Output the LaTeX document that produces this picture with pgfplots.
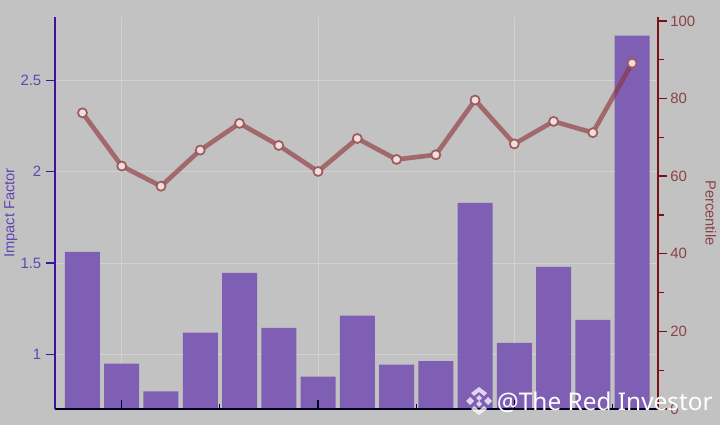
\documentclass[border=0pt]{standalone}
\usepackage{fontspec}
\setmainfont{Liberation Sans}
\newfontfamily\wmfont{Noto Sans}
\usepackage{pgfplots}
\pgfplotsset{compat=1.18}

\definecolor{bgc}{HTML}{C2C2C2}
\definecolor{gridc}{HTML}{D2D2D2}
\definecolor{barc}{HTML}{7A58B4}
\definecolor{leftc}{HTML}{3A14A0}
\definecolor{lefttxt}{HTML}{6046B0}
\definecolor{rightc}{HTML}{7A1016}
\definecolor{righttxt}{HTML}{8C4248}
\definecolor{linec}{HTML}{8E2F33}
\definecolor{markc}{HTML}{EFDEDE}

\pgfplotsset{
  panel/.style={
    scale only axis, width=452.25pt, height=294pt,
    at={(41.25pt,12pt)}, anchor=south west,
    xmin=-0.70, xmax=14.66,
    /pgf/number format/assume math mode=true,
    tick label style={font=\fontsize{11.2}{13}\selectfont},
    label style={font=\fontsize{11}{13}\selectfont},
  },
}

\begin{document}
\begin{tikzpicture}
\path[use as bounding box, fill=bgc] (0,0) rectangle (540pt,318.75pt);

% bars, left scale and grid
\begin{axis}[
  panel,
  ymin=0.70, ymax=2.848,
  axis x line*=bottom, axis y line*=left,
  x axis line style={draw=none},
  y axis line style={draw=leftc, line width=1.3pt, -},
  xtick={1,6,11}, xticklabels={},
  major x tick style={draw=none},
  ytick={1,1.5,2,2.5},
  yticklabels={1,1.5,2,2.5},
  tick align=outside,
  major tick length=6.75pt,
  major y tick style={draw=leftc, line width=1.1pt},
  y tick label style={text=lefttxt},
  ylabel={Impact Factor},
  ylabel style={text=lefttxt, at={(axis description cs:-0.0733,0.5)}, anchor=center},
  grid=major,
  major grid style={draw=gridc, line width=0.75pt},
]
\addplot[ybar, bar width=26.25pt, bar shift=0pt, fill=barc, fill opacity=0.93, draw=none] coordinates {
  (0,1.561)(1,0.948)(2,0.797)(3,1.118)(4,1.446)(5,1.145)(6,0.877)(7,1.211)
  (8,0.943)(9,0.962)(10,1.829)(11,1.063)(12,1.479)(13,1.189)(14,2.746)
};
\end{axis}

% bottom line and inward ticks
\begin{axis}[
  panel,
  ymin=0, ymax=1,
  axis x line*=bottom, axis y line*=left,
  y axis line style={draw=none},
  x axis line style={draw=black!85!blue, line width=1.1pt, -},
  ytick=\empty,
  xtick={1,6,11}, xticklabels={},
  minor xtick={3.5,8.5,13.5},
  tick align=inside,
  major tick length=6.5pt, minor tick length=4pt,
  major x tick style={draw=black!85!blue, line width=0.9pt},
  minor x tick style={draw=black!85!blue, line width=0.9pt},
]
\end{axis}

% percentile line, right scale
\begin{axis}[
  panel,
  ymin=0, ymax=101,
  hide x axis,
  axis y line*=right,
  y axis line style={draw=rightc, line width=1.1pt, -},
  ytick={0,20,40,60,80,100},
  minor ytick={10,30,50,70,90},
  tick align=outside,
  major tick length=6.75pt, minor tick length=4.5pt,
  major y tick style={draw=rightc, line width=1pt},
  minor y tick style={draw=rightc, line width=1pt},
  y tick label style={text=righttxt, xshift=-1pt},
  ylabel={Percentile},
  ylabel style={text=righttxt, at={(axis description cs:1.0875,0.5)}, anchor=center, rotate=180},
  clip=false,
]
\addplot[draw=linec, draw opacity=0.6, line width=3.5pt, mark=none] coordinates {
  (0,76.3)(1,62.6)(2,57.4)(3,66.7)(4,73.6)(5,67.9)(6,61.2)(7,69.7)
  (8,64.3)(9,65.5)(10,79.6)(11,68.3)(12,74.1)(13,71.2)(14,89.1)
};
\addplot[draw=none, mark=*, mark size=3.4pt,
  mark options={fill=markc, draw=linec!70!bgc, line width=1.3pt}] coordinates {
  (0,76.3)(1,62.6)(2,57.4)(3,66.7)(4,73.6)(5,67.9)(6,61.2)(7,69.7)
  (8,64.3)(9,65.5)(10,79.6)(11,68.3)(12,74.1)(13,71.2)(14,89.1)
};
\end{axis}

% watermark
\begin{scope}[x=0.75pt, y=0.75pt, shift={(479,24)}, fill=white, fill opacity=0.75]
  \fill (-3,3) -- (0,6) -- (3,3) -- (0,0) -- cycle;
  \fill (-3,-3) -- (0,-6) -- (3,-3) -- (0,0) -- cycle;
  \fill (-13,0) -- (-9,4) -- (-5,0) -- (-9,-4) -- cycle;
  \fill (13,0) -- (9,4) -- (5,0) -- (9,-4) -- cycle;
  \fill (-8,8) -- (0,14) -- (8,8) -- (5,5) -- (0,9) -- (-5,5) -- cycle;
  \fill (-8,-8) -- (0,-14) -- (8,-8) -- (5,-5) -- (0,-9) -- (-5,-5) -- cycle;
\end{scope}
\node[anchor=west, inner sep=0pt, text=white, font=\wmfont\fontsize{18.3}{20}\selectfont]
  at (372.5pt,17pt) {@The Red Investor};
\end{tikzpicture}
\end{document}
